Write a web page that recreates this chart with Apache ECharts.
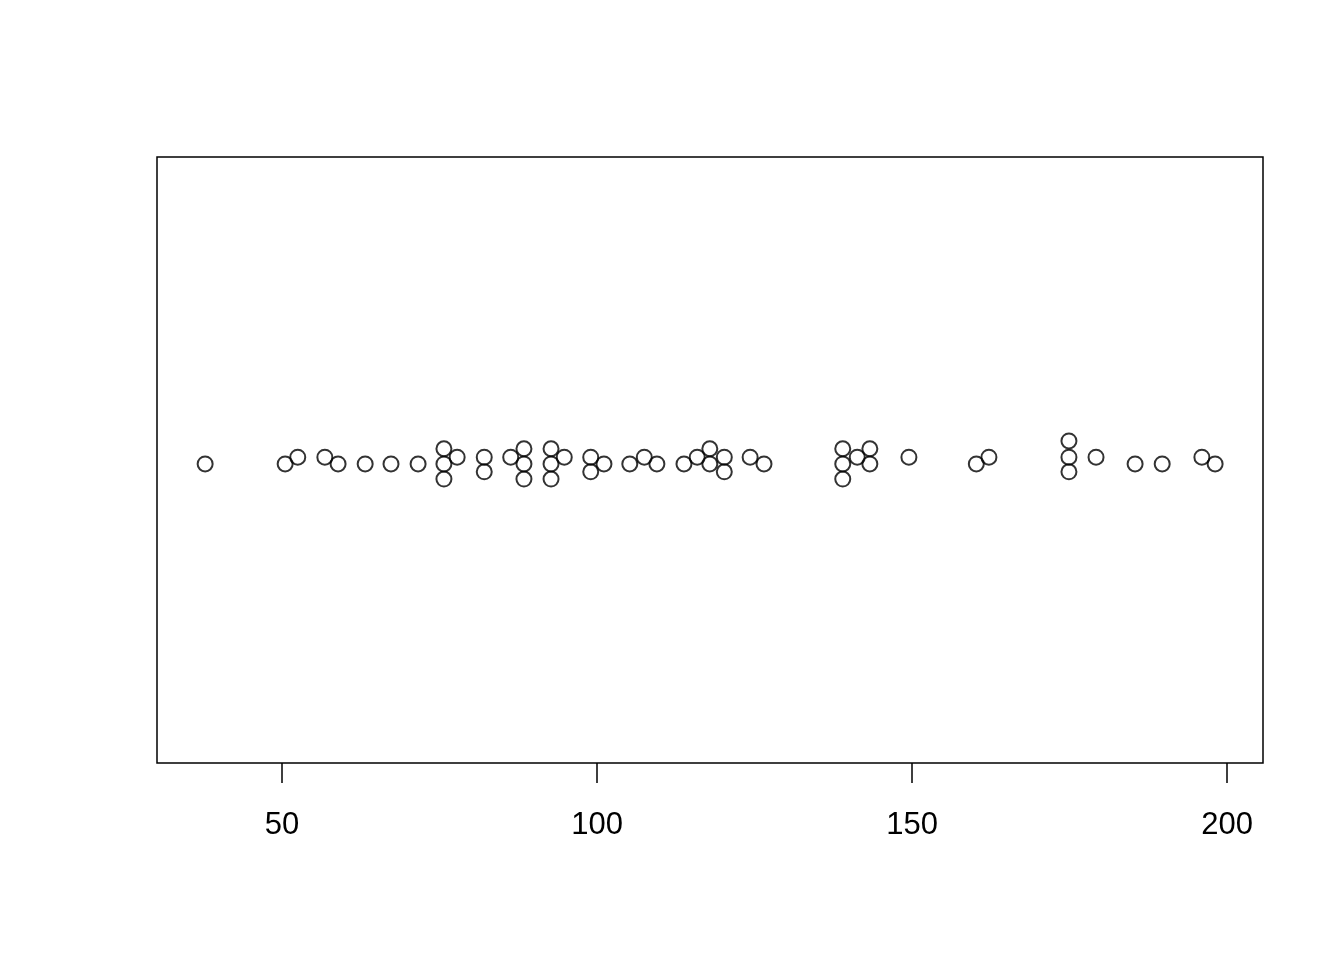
<!DOCTYPE html>
<html>
<head>
<meta charset="utf-8">
<script src="https://cdn.jsdelivr.net/npm/echarts@6/dist/echarts.min.js"></script>
<style>
  html, body { margin: 0; padding: 0; background: #fff; }
  #chart { width: 1344px; height: 960px; }
</style>
</head>
<body>
<div id="chart"></div>
<script>
// values (x) and their stack offsets (y, around 1)
const xValues = [
  37.8, 50.5, 52.5, 56.8, 58.9, 63.2, 67.3, 71.6,
  75.7, 75.7, 75.7, 77.8, 82.1, 82.1, 86.3,
  88.4, 88.4, 88.4, 92.7, 92.7, 92.7, 94.8,
  99.0, 99.0, 101.1, 105.2, 107.5, 109.5, 113.8, 115.9,
  117.9, 117.9, 120.2, 120.2, 124.3, 126.5,
  139.0, 139.0, 139.0, 141.3, 143.3, 143.3, 149.5,
  160.2, 162.2, 174.9, 174.9, 174.9, 179.2,
  185.4, 189.7, 196.0, 198.1
];
const yValues = [
  0.993, 0.993, 1.005, 1.005, 0.993, 0.993, 0.993, 0.993,
  1.020, 0.993, 0.966, 1.005, 1.005, 0.979, 1.005,
  1.020, 0.993, 0.966, 1.020, 0.993, 0.966, 1.005,
  1.005, 0.979, 0.993, 0.993, 1.005, 0.993, 0.993, 1.005,
  1.020, 0.993, 1.005, 0.979, 1.005, 0.993,
  1.020, 0.993, 0.966, 1.005, 1.020, 0.993, 1.005,
  0.993, 1.005, 1.034, 1.005, 0.979, 1.005,
  0.993, 0.993, 1.005, 0.993
];
const tickValues = [50, 100, 150, 200];

let points = [];
for (let i = 0; i < xValues.length; i++) {
  points.push([xValues[i], yValues[i]]);
}

let myChart = echarts.init(document.getElementById("chart"));
myChart.setOption({
  animation: false,
  grid: {
    left: 157,
    right: 81,
    top: 157,
    bottom: 197,
    show: true,
    borderColor: "#000",
    borderWidth: 1.5,
    backgroundColor: "transparent"
  },
  xAxis: {
    type: "value",
    min: 30.16,
    max: 205.7,
    splitLine: { show: false },
    axisLine: { show: false },
    axisTick: {
      show: true,
      length: 20,
      customValues: tickValues,
      lineStyle: { color: "#000", width: 1.5 }
    },
    axisLabel: {
      customValues: tickValues,
      margin: 47,
      color: "#000",
      fontSize: 31,
      fontFamily: "Liberation Sans, Arial, sans-serif"
    }
  },
  yAxis: {
    type: "value",
    min: 0.46,
    max: 1.54,
    show: false
  },
  series: [
    {
      type: "scatter",
      data: points,
      symbol: "circle",
      symbolSize: 15,
      itemStyle: {
        color: "rgba(0,0,0,0)",
        borderColor: "#000",
        borderWidth: 2
      }
    }
  ]
});
</script>
</body>
</html>
